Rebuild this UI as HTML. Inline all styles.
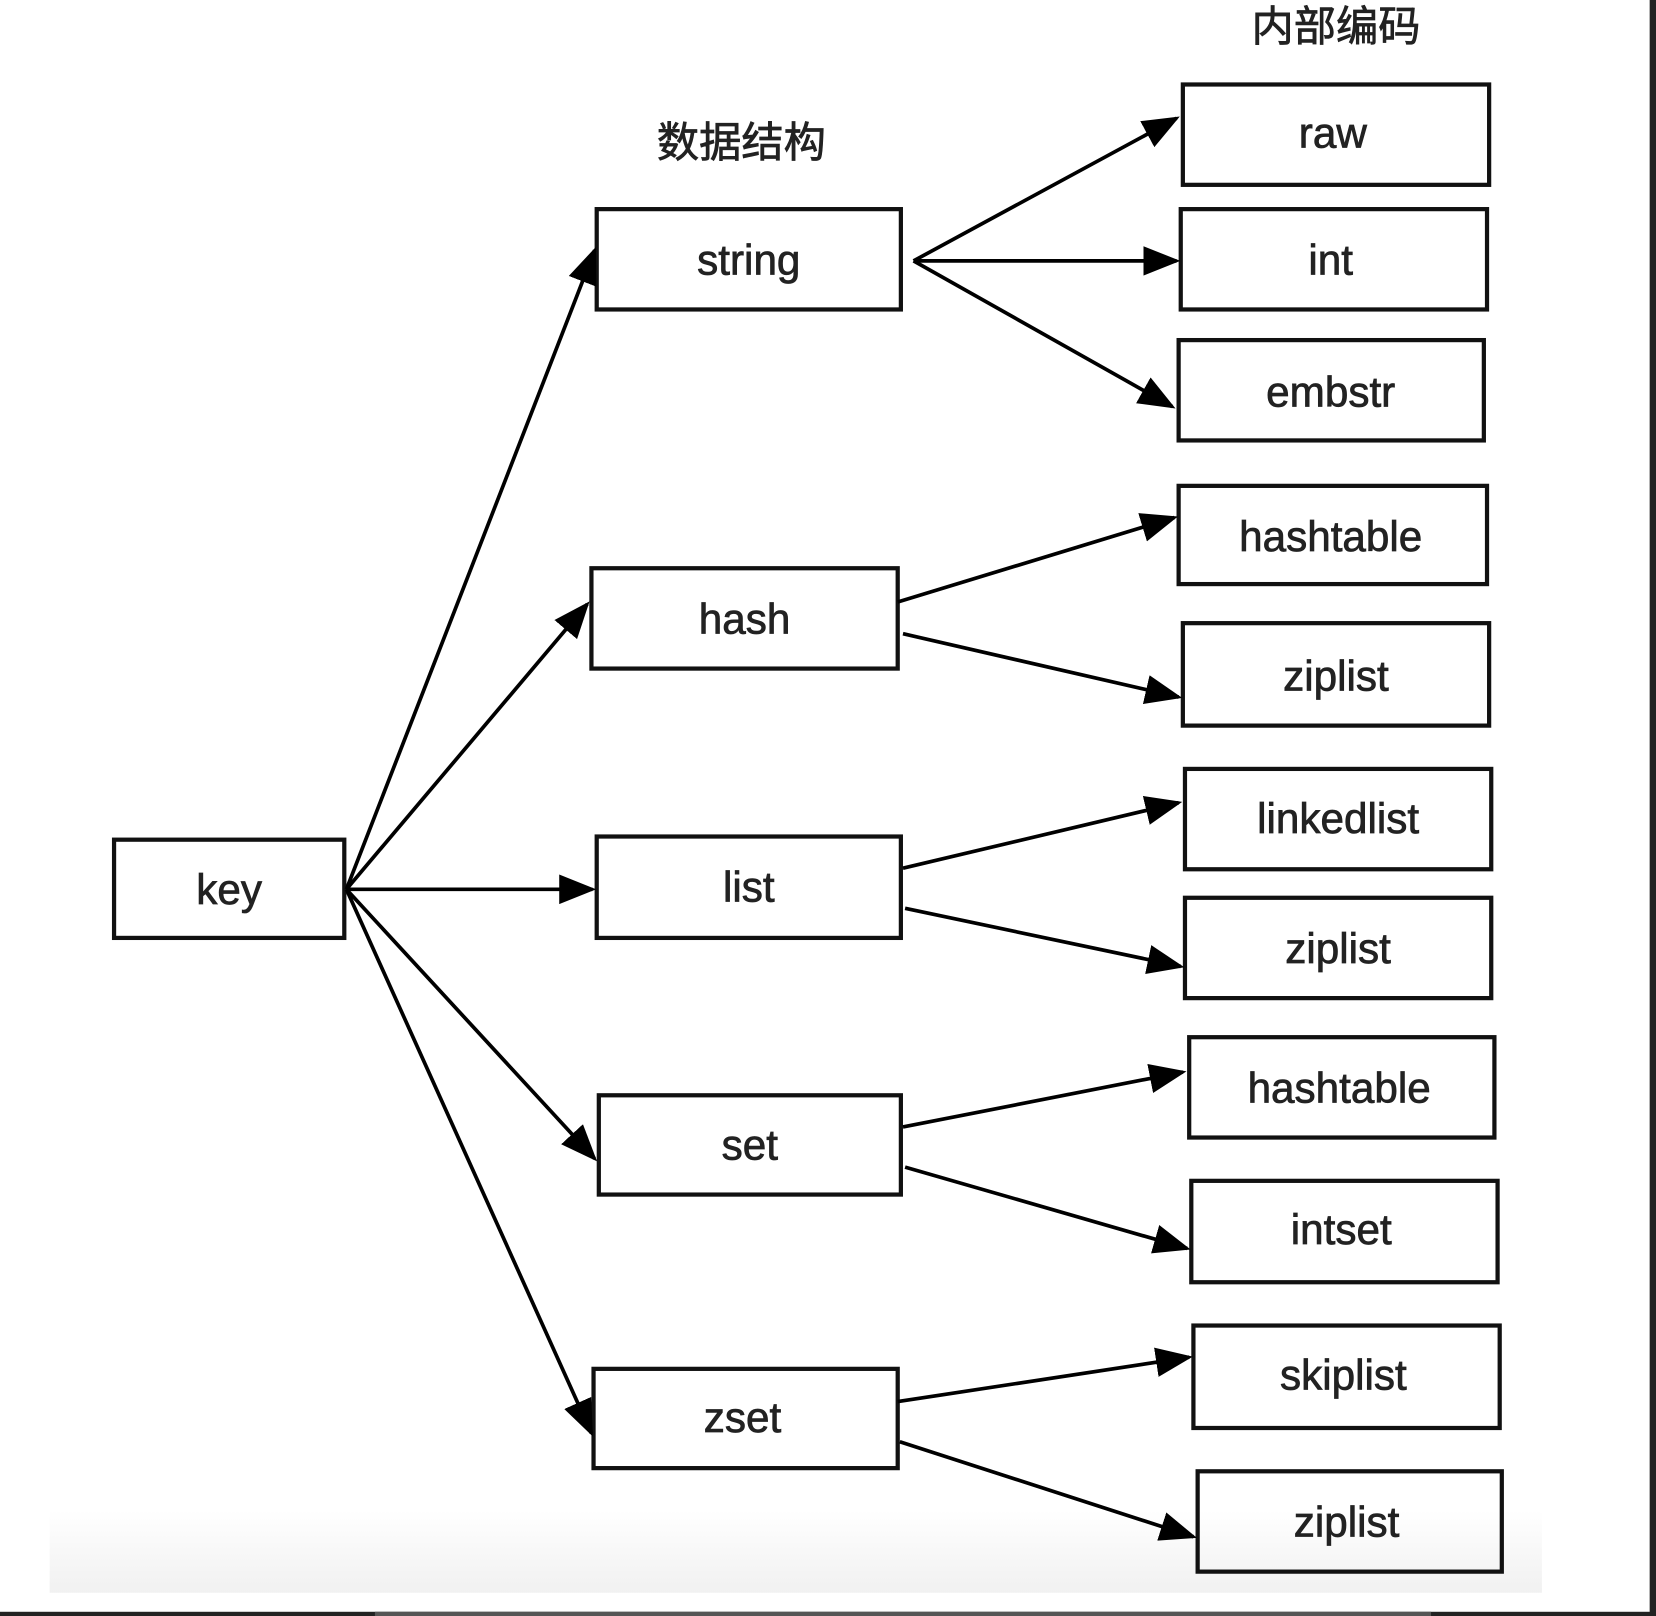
<!DOCTYPE html>
<html><head><meta charset="utf-8"><style>
html,body{margin:0;padding:0;background:#fff;}
svg{display:block;}
text{font-family:"Liberation Sans","Noto Sans CJK SC",sans-serif;fill:#222;stroke:#222;stroke-width:0.7;text-anchor:middle;dominant-baseline:central;}
</style></head><body>
<svg width="1656" height="1616" viewBox="0 0 1568 1530" preserveAspectRatio="none" xmlns="http://www.w3.org/2000/svg">
<defs>
<marker id="a" markerWidth="10" markerHeight="8" refX="9" refY="4" orient="auto" markerUnits="strokeWidth"><path d="M0,0 L10,4 L0,8 z" fill="#000"/></marker>
<linearGradient id="g" x1="0" y1="0" x2="0" y2="1"><stop offset="0" stop-color="#fff"/><stop offset="1" stop-color="#f1f1f1"/></linearGradient>
</defs>
<rect x="0" y="0" width="1568" height="1530" fill="#fff"/>
<rect x="47" y="1430" width="1413" height="78" fill="url(#g)"/>
<rect x="1562" y="0" width="6" height="1530" fill="#222"/>
<rect x="0" y="1526" width="1568" height="4" fill="#222"/>
<rect x="355" y="1526" width="1000" height="4" fill="#555"/>

<text x="702" y="135" font-size="40">数据结构</text>
<text x="1265" y="25" font-size="40">内部编码</text>

<g fill="none" stroke="#111" stroke-width="4">
<rect x="108" y="795" width="218" height="93"/>
<rect x="565" y="198" width="288" height="95"/>
<rect x="560" y="538" width="290" height="95"/>
<rect x="565" y="792" width="288" height="96"/>
<rect x="567" y="1037" width="286" height="94"/>
<rect x="562" y="1296" width="288" height="94"/>
<rect x="1120" y="80" width="290" height="95"/>
<rect x="1118" y="198" width="290" height="95"/>
<rect x="1116" y="322" width="289" height="95"/>
<rect x="1116" y="460" width="292" height="93"/>
<rect x="1120" y="590" width="290" height="97"/>
<rect x="1122" y="728" width="290" height="95"/>
<rect x="1122" y="850" width="290" height="95"/>
<rect x="1126" y="982" width="289" height="95"/>
<rect x="1128" y="1118" width="290" height="96"/>
<rect x="1130" y="1255" width="290" height="97"/>
<rect x="1134" y="1393" width="288" height="95"/>
</g>

<g stroke="#000" stroke-width="3.5" fill="none" marker-end="url(#a)">
<line x1="328" y1="842" x2="563" y2="237"/>
<line x1="328" y1="842" x2="556" y2="572"/>
<line x1="328" y1="842" x2="561" y2="842"/>
<line x1="328" y1="842" x2="563" y2="1097"/>
<line x1="328" y1="842" x2="560" y2="1357"/>
<line x1="865" y1="247" x2="1114" y2="112"/>
<line x1="865" y1="247" x2="1114" y2="247"/>
<line x1="865" y1="247" x2="1110" y2="385"/>
<line x1="850" y1="570" x2="1112" y2="490"/>
<line x1="855" y1="600" x2="1116" y2="660"/>
<line x1="855" y1="822" x2="1116" y2="760"/>
<line x1="857" y1="860" x2="1118" y2="915"/>
<line x1="855" y1="1067" x2="1120" y2="1015"/>
<line x1="857" y1="1105" x2="1124" y2="1182"/>
<line x1="850" y1="1327" x2="1126" y2="1285"/>
<line x1="852" y1="1365" x2="1130" y2="1455"/>
</g>

<g font-size="40">
<text x="217" y="842">key</text>
<text x="709" y="246">string</text>
<text x="705" y="586">hash</text>
<text x="709" y="840">list</text>
<text x="710" y="1084">set</text>
<text x="703" y="1342">zset</text>
<text x="1262" y="126">raw</text>
<text x="1260" y="246">int</text>
<text x="1260" y="371">embstr</text>
<text x="1260" y="508">hashtable</text>
<text x="1265" y="640">ziplist</text>
<text x="1267" y="775">linkedlist</text>
<text x="1267" y="898">ziplist</text>
<text x="1268" y="1030">hashtable</text>
<text x="1270" y="1164">intset</text>
<text x="1272" y="1302">skiplist</text>
<text x="1275" y="1441">ziplist</text>
</g>
</svg>
</body></html>
